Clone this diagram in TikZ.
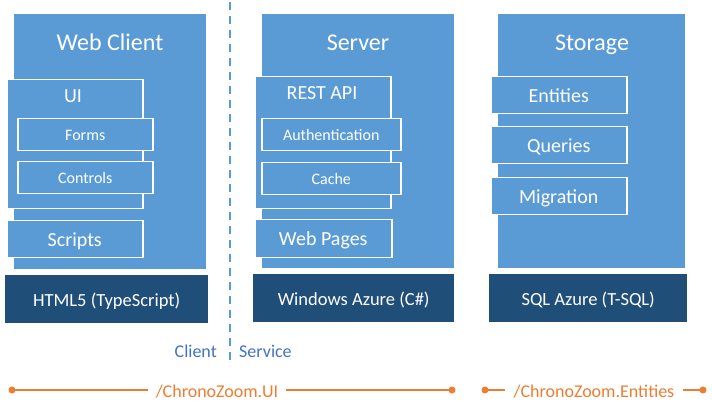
\documentclass[tikz,border=0pt]{standalone}
\usepackage{fontspec}
\setmainfont{Carlito}
\definecolor{boxblue}{HTML}{5B9BD5}
\definecolor{baseblue}{HTML}{1F4E79}
\definecolor{pathorange}{HTML}{ED7D31}
\definecolor{sidetext}{HTML}{4472C4}
\tikzset{
  tier/.style={fill=boxblue, anchor=north west, inner sep=0},
  part/.style={fill=boxblue, draw=white, line width=1.5pt, anchor=north west, inner sep=0,
    text=white, font=\fontsize{20}{24}\selectfont, text height=14.4pt, text depth=0pt},
  subpart/.style={part, font=\fontsize{16}{19}\selectfont, text height=11.6pt},
  platform/.style={fill=baseblue, anchor=north west, inner sep=0, text=white,
    font=\fontsize{18.5}{22}\selectfont, text height=14pt, text depth=0pt},
  title/.style={anchor=base, text=white, font=\fontsize{24}{29}\selectfont},
  parttitle/.style={anchor=base, text=white, font=\fontsize{20}{24}\selectfont},
  side/.style={text=sidetext, font=\fontsize{18}{22}\selectfont, inner sep=0},
  proj/.style={text=pathorange, font=\fontsize{18}{22}\selectfont, inner xsep=8pt,
    text height=14pt, text depth=0pt},
}
\begin{document}
\begin{tikzpicture}[x=1pt,y=-1pt]
\useasboundingbox (0,0) rectangle (712,411);
\node[tier, minimum width=192, minimum height=255] (client) at (14,14) {};
\node[title] (clienttitle) at (110,51) {Web Client};
\node[part, minimum width=136, minimum height=129] (ui) at (6,79) {};
\node[parttitle] (uititle) at (73,103) {UI};
\node[subpart, minimum width=135, minimum height=32] (forms) at (17,118) {Forms};
\node[subpart, minimum width=135, minimum height=32] (controls) at (17,161) {Controls};
\node[part, minimum width=136, minimum height=37] (scripts) at (6,220) {Scripts};
\node[platform, minimum width=203, minimum height=48] (html) at (5,275) {HTML5 (TypeScript)};

\node[tier, minimum width=192, minimum height=254] (server) at (262,14) {};
\node[title] (servertitle) at (358,51) {Server};
\node[part, minimum width=136, minimum height=132] (rest) at (254,76) {};
\node[parttitle] (resttitle) at (322,100) {REST API};
\node[subpart, minimum width=139, minimum height=32] (auth) at (261,118) {Authentication};
\node[subpart, minimum width=139, minimum height=32] (cache) at (261,162) {Cache};
\node[part, minimum width=137, minimum height=38] (pages) at (254,219) {Web Pages};
\node[platform, minimum width=201, minimum height=48] (azure) at (253,274) {Windows Azure (C\#)};

\node[tier, minimum width=187, minimum height=254] (storage) at (498,14) {};
\node[title] (storagetitle) at (592,51) {Storage};
\node[part, minimum width=136, minimum height=37] (entities) at (490,76) {Entities};
\node[part, minimum width=136, minimum height=37] (queries) at (490,126) {Queries};
\node[part, minimum width=136, minimum height=37] (migration) at (490,177) {Migration};
\node[platform, minimum width=198, minimum height=48] (sql) at (489,274) {SQL Azure (T-SQL)};

\coordinate (splittop) at (230,2);
\coordinate (splitbottom) at (230,366);
\draw[boxblue, line width=2pt, dash pattern=on 8pt off 6pt] (splittop) -- (splitbottom);
\node[side, anchor=base east] (clientlbl) at (217,358) {Client};
\node[side, anchor=base west] (servicelbl) at (239,358) {Service};

\node[proj] (uipath) at (217,390) {/ChronoZoom.UI};
\node[proj] (entpath) at (594,390) {/ChronoZoom.Entities};
\coordinate (u1) at (12,390);
\coordinate (u2) at (452,390);
\coordinate (e1) at (485,390);
\coordinate (e2) at (703,390);
\draw[pathorange, line width=2pt] (u1) -- (uipath.west) (uipath.east) -- (u2)
  (e1) -- (entpath.west) (entpath.east) -- (e2);
\foreach \p in {u1,u2,e1,e2}
\fill[pathorange] (\p) circle [radius=3.5pt];
\end{tikzpicture}
\end{document}
